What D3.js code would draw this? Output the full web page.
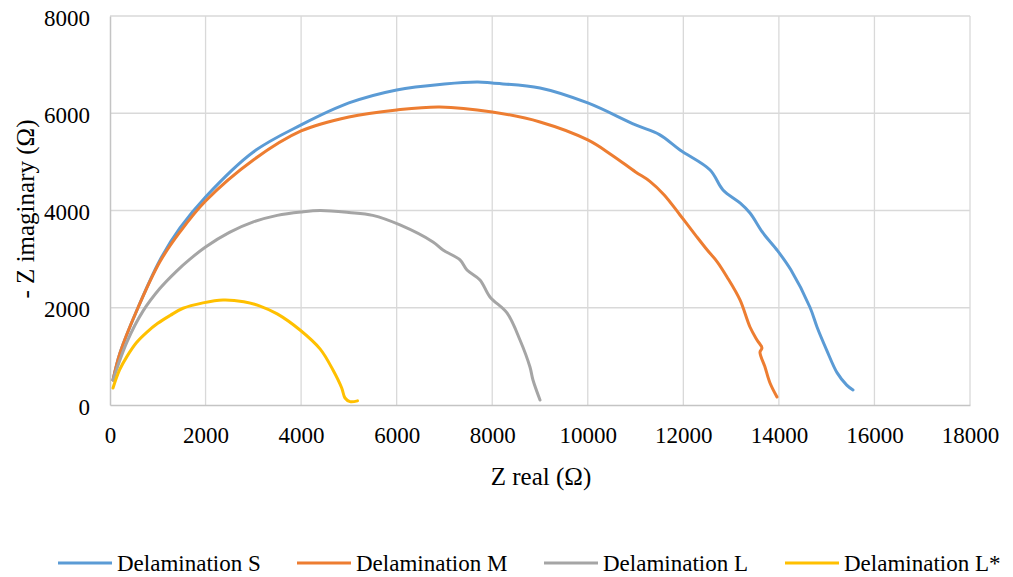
<!DOCTYPE html>
<html>
<head>
<meta charset="utf-8">
<script src="https://cdn.jsdelivr.net/npm/d3@7"></script>
<style>
  body { margin: 0; background: #fff; }
  svg { display: block; }
  svg text { font-family: "Liberation Serif", "Times New Roman", serif; fill: #000; }
</style>
</head>
<body>
<svg id="chart" width="1013" height="577"></svg>
<script>
// Nyquist data (Z real, -Z imaginary in ohm)
var realS = [63, 209, 565, 1047, 1465, 2000, 3000, 4000, 5000, 6000, 7000, 7700, 8000, 9000, 10000, 11000, 11500, 11930, 12560, 12830, 13186, 13395, 13667, 13960, 14250, 14650, 14800, 15000, 15220, 15420, 15551];
var imagS = [514, 1070, 1954, 2983, 3641, 4279, 5204, 5760, 6212, 6480, 6603, 6644, 6620, 6521, 6212, 5760, 5560, 5245, 4834, 4423, 4155, 3949, 3538, 3188, 2780, 2010, 1600, 1130, 660, 410, 309];

var realM = [63, 209, 565, 1047, 1465, 2000, 3000, 4000, 5000, 6000, 6900, 8000, 9000, 10000, 10500, 11000, 11300, 11600, 11930, 12250, 12500, 12705, 12914, 13186, 13395, 13542, 13646, 13604, 13709, 13814, 13960];
var imagM = [514, 1070, 1954, 2950, 3559, 4196, 5040, 5636, 5924, 6068, 6130, 6027, 5821, 5451, 5143, 4793, 4600, 4320, 3908, 3500, 3188, 2950, 2633, 2160, 1604, 1337, 1172, 1090, 781, 452, 165];

var realL = [63, 356, 690, 1047, 1400, 1674, 2000, 2500, 3000, 3500, 4000, 4400, 5000, 5500, 6070, 6760, 6970, 7326, 7472, 7744, 7953, 8309, 8581, 8790, 8853, 9000];
var imagL = [514, 1300, 1930, 2400, 2760, 3000, 3250, 3550, 3765, 3900, 3970, 4000, 3960, 3900, 3703, 3353, 3188, 2983, 2777, 2571, 2222, 1893, 1337, 781, 514, 103];

var realLs = [63, 200, 356, 560, 774, 1000, 1256, 1528, 1946, 2365, 2800, 3140, 3500, 3977, 4400, 4667, 4850, 4919, 5023, 5180];
var imagLs = [350, 720, 1000, 1290, 1500, 1680, 1840, 1990, 2100, 2160, 2125, 2035, 1875, 1543, 1150, 720, 350, 144, 70, 85];

var seriesNames = ["Delamination S", "Delamination M", "Delamination L", "Delamination L*"];
var seriesColors = ["#5b9bd5", "#ed7d31", "#a5a5a5", "#ffc000"];
var xTicks = [0, 2000, 4000, 6000, 8000, 10000, 12000, 14000, 16000, 18000];
var yTicks = [0, 2000, 4000, 6000, 8000];

var series = [
  { name: seriesNames[0], color: seriesColors[0], xs: realS, ys: imagS },
  { name: seriesNames[1], color: seriesColors[1], xs: realM, ys: imagM },
  { name: seriesNames[2], color: seriesColors[2], xs: realL, ys: imagL },
  { name: seriesNames[3], color: seriesColors[3], xs: realLs, ys: imagLs }
];

var svg = d3.select("#chart");
var plotLeft = 110, plotRight = 970, plotTop = 16, plotBottom = 405;

var x = d3.scaleLinear().domain([0, 18000]).range([plotLeft, plotRight]);
var y = d3.scaleLinear().domain([0, 8000]).range([plotBottom, plotTop]);

// grid
svg.append("g").selectAll("line").data(xTicks.slice(1)).enter().append("line")
  .attr("x1", function(d) { return x(d); }).attr("x2", function(d) { return x(d); })
  .attr("y1", plotTop).attr("y2", plotBottom)
  .style("stroke", "#d9d9d9").style("stroke-width", 1.3);
svg.append("g").selectAll("line").data(yTicks.slice(1)).enter().append("line")
  .attr("x1", plotLeft).attr("x2", plotRight)
  .attr("y1", function(d) { return y(d); }).attr("y2", function(d) { return y(d); })
  .style("stroke", "#d9d9d9").style("stroke-width", 1.3);

// axes
var xAxis = svg.append("g").attr("transform", "translate(0," + plotBottom + ")")
  .call(d3.axisBottom(x).tickValues(xTicks).tickSize(0).tickPadding(22).tickFormat(d3.format("d")));
var yAxis = svg.append("g").attr("transform", "translate(" + plotLeft + ",0)")
  .call(d3.axisLeft(y).tickValues(yTicks).tickSize(0).tickPadding(20).tickFormat(d3.format("d")));
[xAxis, yAxis].forEach(function(a) {
  a.attr("font-family", null).attr("font-size", null);
  a.select(".domain").style("stroke", "#c4c4c4").style("stroke-width", 1.5);
  a.selectAll("text").style("font-size", "23px");
});
yAxis.selectAll("text").attr("dy", "0.4em");
xAxis.selectAll("text").attr("dy", "0.71em");

// curves
var line = d3.line()
  .x(function(d) { return x(d[0]); })
  .y(function(d) { return y(d[1]); })
  .curve(d3.curveCatmullRom.alpha(0.5));

svg.append("g").selectAll("path").data(series).enter().append("path")
  .attr("d", function(s) { return line(d3.zip(s.xs, s.ys)); })
  .style("fill", "none")
  .style("stroke", function(s) { return s.color; })
  .style("stroke-width", 3)
  .style("stroke-linejoin", "round")
  .style("stroke-linecap", "round");

// axis titles
svg.append("text").attr("x", 541).attr("y", 485).attr("text-anchor", "middle")
  .style("font-size", "25px").text("Z real (Ω)");
svg.append("text").attr("transform", "translate(34,209) rotate(-90)").attr("text-anchor", "middle")
  .style("font-size", "25px").text("- Z imaginary (Ω)");

// legend
var legendX = [58, 297, 544, 785];
var leg = svg.append("g").selectAll("g").data(series).enter().append("g")
  .attr("transform", function(d, i) { return "translate(" + legendX[i] + ",563)"; });
leg.append("line").attr("x1", 0).attr("x2", 54).attr("y1", 0).attr("y2", 0)
  .style("stroke", function(d) { return d.color; }).style("stroke-width", 3);
leg.append("text").attr("x", 59).attr("y", 8).style("font-size", "23px")
  .text(function(d) { return d.name; });
</script>
</body>
</html>
